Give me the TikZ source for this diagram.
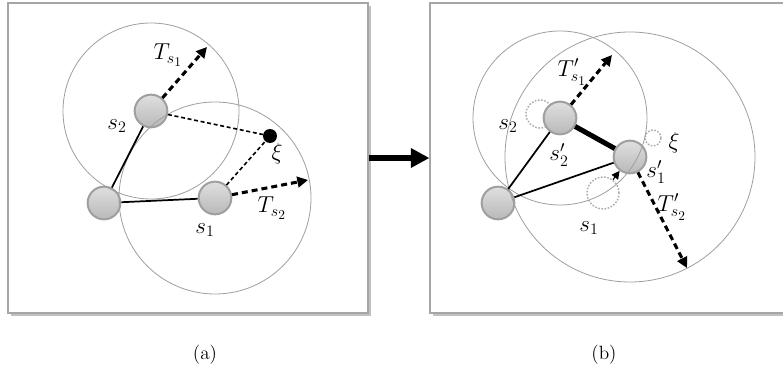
\documentclass[tikz,border=0pt]{standalone}
\usetikzlibrary{arrows.meta,shadows}

\tikzset{
  panel/.style={draw=gray!70,line width=0.8pt,fill=white,minimum width=270pt,minimum height=232.5pt,
    drop shadow={shadow xshift=2pt,shadow yshift=-2pt,fill=gray!80,opacity=0.6}},
  sensor/.style={circle,draw=gray!75,line width=1.5pt,minimum size=24.5pt,inner sep=0pt,
    shading=axis,top color=gray!25,middle color=white,bottom color=gray!55},
  ghost/.style={circle,draw=gray!65,line width=1.1pt,dash pattern=on 1.2pt off 1.2pt,inner sep=0pt},
  target/.style={circle,fill=black,minimum size=10.5pt,inner sep=0pt},
  rangering/.style={draw=gray!75,line width=0.6pt},
  link/.style={line width=1.3pt},
  movearrow/.style={line width=2.3pt,dash pattern=on 4.5pt off 3pt,-{Triangle[length=8pt,width=8pt]}},
  sense/.style={line width=1.2pt,dash pattern=on 3pt off 2pt},
  lbl/.style={font=\LARGE},
}

\begin{document}
\begin{tikzpicture}[x=0.75pt,y=-0.75pt]
	\useasboundingbox[fill=white] (0,0) rectangle (783,367);

	%panels
	\node[panel] (boxa) at (188,158) {};
	\node[panel] (boxb) at (610,158) {};
	\draw[line width=3.8pt,-{Triangle[length=14pt,width=14pt]}] (boxa.east) -- (boxb.west); %step arrow

	%(a) sensors
	\node[sensor] (basea) at (104,203) {};
	\node[sensor] (s2a) at (151,111) {};
	\node[sensor] (s1a) at (215,198) {};
	\node[target] (xia) at (270,136) {};
	\coordinate (ta1) at (207,47);
	\coordinate (ta2) at (308,180);

	%(a) ranges
	\draw[rangering] (s2a) circle[radius=88];
	\draw[rangering] (s1a) circle[radius=96];

	%(a) links
	\draw[link] (basea) -- (s2a);
	\draw[link] (basea) -- (s1a);
	\draw[sense] (s2a) -- (xia);
	\draw[sense] (s1a) -- (xia);
	\draw[movearrow] (s2a) -- (ta1); %T s1
	\draw[movearrow] (s1a) -- (ta2); %T s2

	%(a) labels
	\node[lbl] (la1) at (168,55) {$T_{s_1}$};
	\node[lbl] (la2) at (117,126) {$s_2$};
	\node[lbl] (la3) at (277,154) {$\xi$};
	\node[lbl] (la4) at (272,208) {$T_{s_2}$};
	\node[lbl] (la5) at (205,230) {$s_1$};
	\node[font=\Large] (capa) at (205,355) {(a)};

	%(b) sensors
	\node[sensor] (baseb) at (498,203) {};
	\node[ghost,minimum size=21pt] (s2old) at (540,114) {};
	\node[ghost,minimum size=12pt] (xib) at (653,138) {};
	\node[ghost,minimum size=24pt] (s1old) at (603,193) {};
	\node[sensor] (s2b) at (560,118) {};
	\node[sensor] (s1b) at (630,157) {};
	\coordinate (tb1) at (612,55);
	\coordinate (tb2) at (687,268);

	%(b) ranges
	\draw[rangering] (s2b) circle[radius=87];
	\draw[rangering] (s1b) circle[radius=125];

	%(b) links
	\draw[link] (baseb) -- (s2b);
	\draw[link] (baseb) -- (s1b);
	\draw[line width=3.8pt] (s2b) -- (s1b); %new link
	\draw[line width=0.8pt,-{Triangle[length=6pt,width=6pt]}] (s1old) -- (s1b);
	\draw[movearrow] (s2b) -- (tb1); %T' s1
	\draw[movearrow] (s1b) -- (tb2); %T' s2

	%(b) labels
	\node[lbl] (lb1) at (572,72) {$T'_{s_1}$};
	\node[lbl] (lb2) at (508,126) {$s_2$};
	\node[lbl] (lb3) at (559,155) {$s'_2$};
	\node[lbl] (lb4) at (674,143) {$\xi$};
	\node[lbl] (lb5) at (656,172) {$s'_1$};
	\node[lbl] (lb6) at (672,207) {$T'_{s_2}$};
	\node[lbl] (lb7) at (589,228) {$s_1$};
	\node[font=\Large] (capb) at (604,355) {(b)};
\end{tikzpicture}
\end{document}
